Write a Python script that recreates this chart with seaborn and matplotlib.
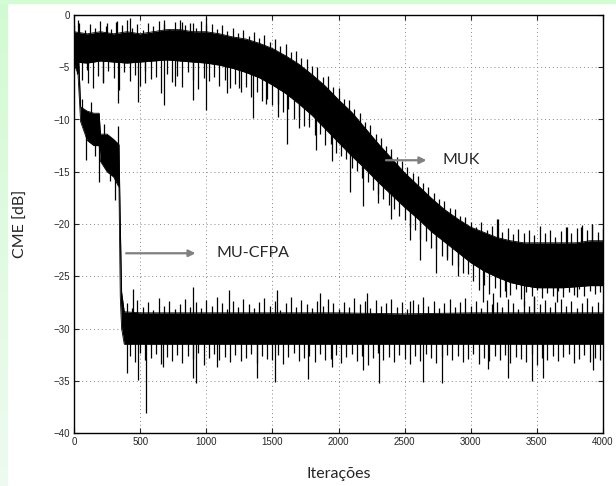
import matplotlib
matplotlib.use("Agg")
import matplotlib.pyplot as plt
from matplotlib.patches import Rectangle
import numpy as np
import pandas as pd
import seaborn as sns

# MUK: dense core of the trace, every 100 iterations
MUK_IT = list(range(0, 4001, 100))
MUK_TOP = [-1.6, -1.8, -1.6, -1.8, -1.6, -1.8, -1.6, -1.4, -1.4, -1.6, -1.6,
           -1.8, -2.1, -2.3, -2.7, -3.2, -3.9, -4.7, -5.7, -6.8, -8.1,
           -9.3, -10.8, -12.3, -13.7, -15.1, -16.3, -17.5, -18.6, -19.5, -20.3,
           -20.8, -21.3, -21.6, -21.8, -21.8, -21.8, -21.8, -21.8, -21.6, -21.6]
MUK_BOTTOM = [-4.5, -4.6, -4.4, -4.5, -4.6, -4.5, -4.4, -4.3, -4.4, -4.5, -4.6,
              -4.8, -5.1, -5.5, -6.0, -6.7, -7.5, -8.5, -9.6, -10.9, -12.2,
              -13.5, -14.7, -16.0, -17.2, -18.4, -19.5, -20.7, -21.7, -22.7, -23.7,
              -24.5, -25.1, -25.6, -25.9, -26.1, -26.1, -26.1, -26.0, -25.9, -25.9]
# fuzz of the trace: upward peaks at 0, 40, ..., 4000 and downward at 20, 60, ..., 3980
MUK_UP = [-1.0, -0.8, -1.4, -0.9, -1.2, -0.6, -1.1, -1.3, -0.7, -1.0, -0.5, -1.2, -0.9,
          -1.4, -0.8, -1.1, -0.6, -0.9, -1.3, -0.7, -0.5, -1.0, -0.8, -1.2, -0.6, -0.9,
          -0.9, -1.3, -1.0, -1.5, -1.2, -1.7, -1.4, -2.0, -1.6, -2.2, -1.9, -2.6, -2.3,
          -3.0, -2.8, -3.5, -3.4, -4.1, -4.2, -4.9, -5.0, -5.9, -5.8, -6.9, -7.0,
          -8.0, -8.1, -9.0, -9.4, -10.2, -10.5, -11.4, -11.8, -12.5, -12.8, -13.6, -14.0,
          -14.5, -15.1, -15.4, -16.1, -16.5, -17.0, -17.6, -17.8, -18.5, -18.6, -19.2, -19.3, -19.8,
          -20.3, -19.8, -20.6, -20.2, -19.5, -20.8, -20.4, -21.0, -20.5, -20.9, -20.6, -21.1,
          -20.2, -20.9, -20.6, -21.2, -20.7, -20.3, -20.9, -20.4, -20.1, -20.6, -20.0, -20.8, -20.5]
MUK_DOWN = [-5.6, -6.2, -5.3, -7.0, -5.8, -6.5, -5.4, -6.0, -7.2, -5.5, -6.3, -5.7, -6.8,
            -5.4, -6.1, -5.9, -7.5, -5.6, -6.4, -5.8, -6.9, -5.5, -6.2, -7.1, -6.0,
            -6.3, -5.9, -6.8, -6.2, -7.0, -6.6, -7.4, -6.9, -7.8, -7.4, -8.2, -8.0, -8.6,
            -8.5, -9.3, -9.0, -10.0, -9.8, -10.6, -10.7, -11.5, -11.4, -12.4, -12.3, -13.2,
            -13.5, -13.8, -14.6, -14.9, -15.6, -16.0, -16.7, -17.1, -17.6, -18.2, -18.6, -19.2,
            -19.6, -20.3, -20.6, -21.4, -21.6, -22.3, -22.4, -23.1, -23.2, -23.9, -24.0, -24.7, -24.8,
            -25.5, -26.3, -25.8, -26.7, -26.1, -27.0, -26.4, -26.8, -26.2, -27.2, -26.5, -26.9,
            -26.3, -27.1, -26.6, -26.9, -26.4, -27.0, -26.5, -26.8, -26.2, -26.9, -26.4, -26.7, -26.5]
# isolated deep / high spikes
MUK_SPIKE_IT = [108, 216, 335, 486, 536, 683, 760, 902, 998, 1154, 1250, 1355,
                1450, 1540, 1608, 1700, 1829, 1950, 2086, 2187, 2300, 2400, 2540,
                2615, 2741, 2820, 2900, 3092, 3270, 3400, 3522, 3650, 3800,
                30, 250, 323, 420, 680, 814, 900, 1000, 3205, 3725, 3830, 3920]
MUK_SPIKE_DB = [-6.5, -6.4, -8.4, -8.3, -6.5, -8.6, -6.8, -8.1, -9.1, -7.5, -7.0, -9.9,
                -8.5, -9.8, -12.3, -10.8, -12.9, -14.0, -16.9, -18.3, -18.0, -19.5, -21.5,
                -23.4, -24.7, -23.4, -25.0, -27.5, -27.0, -27.8, -26.0, -27.5, -27.0,
                -0.5, -0.8, -0.6, -0.3, -0.5, -0.7, -0.8, -0.2, -19.5, -20.3, -20.3, -20.0]

# MU-CFPA
CFPA_IT = [0, 30, 50, 100, 150, 190, 200, 250, 300, 340, 350, 360, 380,
           500, 1000, 1500, 2000, 2500, 3000, 3500, 4000]
CFPA_TOP = [-1.8, -2.3, -8.8, -9.2, -9.4, -9.4, -11.4, -11.4, -11.9, -12.4, -20.0, -26.5, -28.4,
            -28.5, -28.5, -28.5, -28.5, -28.6, -28.5, -28.5, -28.5]
CFPA_BOTTOM = [-4.7, -5.6, -10.2, -12.0, -12.5, -12.5, -14.0, -15.0, -15.5, -16.5, -27.0, -30.0, -31.5,
               -31.5, -31.5, -31.5, -31.5, -31.5, -31.5, -31.5, -31.5]
# fuzz: upward peaks at 400, 440, ..., 4000 and downward at 420, 460, ..., 3980
CFPA_UP = [-27.6, -28.0, -27.3, -27.9, -27.5, -28.2, -27.1, -27.8, -27.4, -28.1,
           -27.7, -27.2, -27.9, -27.5, -28.0, -27.3, -27.8, -27.0, -27.6, -28.1,
           -27.4, -27.9, -27.2, -27.7, -28.0, -27.5, -27.1, -27.8, -27.4, -28.2,
           -27.6, -27.0, -27.9, -27.3, -27.7, -28.0, -27.4, -27.8, -27.2, -27.6,
           -28.1, -27.5, -27.9, -27.1, -27.7, -27.4, -28.0, -27.3, -27.8, -27.6,
           -27.2, -27.9, -27.5, -28.1, -27.3, -27.7, -27.0, -27.8, -27.4, -28.0,
           -27.6, -27.2, -27.9, -27.5, -27.1, -27.8, -27.4, -28.0, -27.3, -27.7,
           -27.5, -27.9, -27.2, -27.6, -28.1, -27.4, -27.8, -27.0, -27.7, -27.3,
           -27.9, -27.5, -27.2, -27.8, -27.4, -28.0, -27.6, -27.1, -27.8, -27.5,
           -27.7]
CFPA_DOWN = [-32.6, -33.2, -32.3, -33.0, -32.8, -32.4, -33.4, -32.7, -33.1, -32.5,
             -33.3, -32.6, -32.9, -32.3, -33.5, -32.8, -32.4, -33.0, -32.7, -33.2,
             -32.5, -33.1, -32.8, -32.4, -33.3, -32.6, -32.9, -33.0, -32.5, -33.4,
             -32.7, -32.3, -33.1, -32.8, -32.6, -33.2, -32.4, -33.0, -32.9, -32.5,
             -33.3, -32.7, -32.4, -33.1, -32.6, -33.5, -32.8, -32.3, -33.0, -32.7,
             -33.2, -32.5, -32.9, -33.4, -32.6, -33.1, -32.4, -32.8, -33.3, -32.7,
             -32.5, -33.0, -32.6, -33.2, -32.9, -32.4, -33.4, -32.8, -33.1, -32.6,
             -33.0, -32.5, -33.3, -32.7, -32.9, -33.2, -32.4, -33.5, -32.8, -33.0,
             -32.6, -33.1, -32.7, -32.4, -33.3, -32.9, -32.5, -33.2, -32.8, -33.0]
CFPA_SPIKE_IT = [60, 91, 130, 160, 190, 230, 270, 310, 330, 398, 481, 542, 675, 897, 922,
                 1080, 1381, 1519, 1771, 1948, 2187, 2305, 2640, 2786, 3132, 3283, 3460,
                 3543, 3925, 448, 902, 1171, 1532, 1859, 2217, 2540, 3172, 3475]
CFPA_SPIKE_DB = [-8.0, -13.9, -8.3, -13.5, -16.0, -10.4, -15.9, -17.7, -10.6, -34.3, -34.9,
                 -38.1, -33.7, -34.7, -35.2, -33.7, -34.7, -35.1, -34.8, -33.7, -34.0, -35.2,
                 -35.1, -35.2, -33.9, -34.7, -35.0, -34.7, -34.0, -26.2, -26.0, -26.3, -26.3,
                 -26.6, -26.6, -27.4, -26.6, -26.9]

X_TICKS = [0, 500, 1000, 1500, 2000, 2500, 3000, 3500, 4000]
Y_TICKS = [-40, -35, -30, -25, -20, -15, -10, -5, 0]

sns.set_style("white")
plt.rcParams["font.family"] = ["Liberation Sans", "DejaVu Sans"]
plt.rcParams["axes.unicode_minus"] = True

fig = plt.figure(figsize=(6.16, 4.86), dpi=100)
fig.patch.set_facecolor("white")
ax = fig.add_axes([74 / 616, 1 - 433 / 486, 529 / 616, 418 / 486])


def draw_curve(ax, it, top, bottom, up_it, up, down_it, down, spike_it, spike_db):
    df = pd.DataFrame({"it": it, "top": top, "bottom": bottom})
    ax.fill_between(df["it"], df["bottom"], df["top"], color="black", lw=0)
    sns.lineplot(data=df, x="it", y="top", ax=ax, color="black", lw=0.6)
    sns.lineplot(data=df, x="it", y="bottom", ax=ax, color="black", lw=0.6)
    mid = (df["top"] + df["bottom"]) / 2
    for xs, ys in ((up_it, up), (down_it, down), (spike_it, spike_db)):
        base = np.interp(xs, df["it"], mid)
        ax.vlines(xs, base, ys, color="black", lw=0.9)


draw_curve(ax, MUK_IT, MUK_TOP, MUK_BOTTOM,
           list(range(0, 4001, 40)), MUK_UP, list(range(20, 4000, 40)), MUK_DOWN,
           MUK_SPIKE_IT, MUK_SPIKE_DB)
draw_curve(ax, CFPA_IT, CFPA_TOP, CFPA_BOTTOM,
           list(range(400, 4001, 40)), CFPA_UP, list(range(420, 4000, 40)), CFPA_DOWN,
           CFPA_SPIKE_IT, CFPA_SPIKE_DB)

ax.set_xlim(0, 4000)
ax.set_ylim(-40, 0)
ax.set_xticks(X_TICKS)
ax.set_yticks(Y_TICKS)
ax.grid(True, linestyle=(0, (1, 3)), color="#888888", lw=0.7)
ax.tick_params(direction="in", length=3.5, width=0.8, labelsize=7,
               top=True, right=True, bottom=True, left=True, pad=3)
for s in ax.spines.values():
    s.set_color("black")
    s.set_linewidth(1.0)

label_font = ["Lato", "DejaVu Sans"]
ax.set_xlabel("Iterações", fontsize=11.5, family=label_font, labelpad=14)
ax.set_ylabel("CME [dB]", fontsize=11.5, family=label_font, labelpad=18)

arrow = dict(arrowstyle="-|>", color="#808080", lw=1.6, mutation_scale=10)
ax.annotate("", xy=(2686, -13.9), xytext=(2338, -13.9), arrowprops=arrow)
ax.text(2786, -13.9, "MUK", fontsize=11.5, family=label_font, va="center")
ax.annotate("", xy=(940, -22.8), xytext=(373, -22.8), arrowprops=arrow)
ax.text(1079, -22.8, "MU-CFPA", fontsize=11.5, family=label_font, va="center")

# beamer-like green border strips
fig.patches.append(Rectangle((0, 1 - 3 / 486), 1, 3 / 486, transform=fig.transFigure,
                             color="#d4fcd4", zorder=0))
grad = fig.add_axes([0, 0, 8 / 616, 1])
grad.imshow(np.linspace(0, 1, 100).reshape(-1, 1), aspect="auto",
            cmap=matplotlib.colors.LinearSegmentedColormap.from_list("g", ["#d2fad2", "#eefaf0"]))
grad.set_axis_off()

fig.savefig("out.png", dpi=100, facecolor="white")
